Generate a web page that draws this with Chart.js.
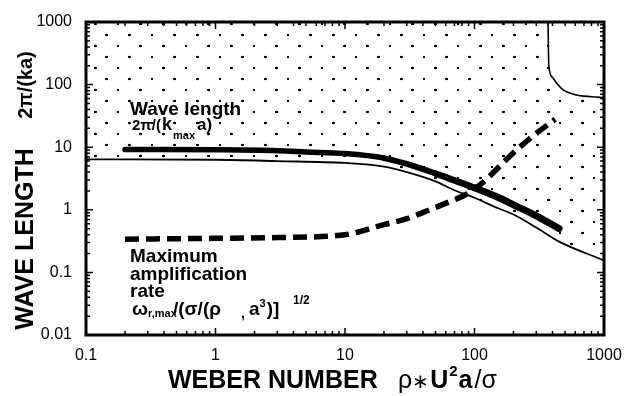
<!DOCTYPE html>
<html>
<head>
<meta charset="utf-8">
<script src="https://cdn.jsdelivr.net/npm/chart.js@4.4.1/dist/chart.umd.min.js"></script>
<style>
  html, body { margin: 0; padding: 0; background: #fff; }
</style>
</head>
<body>
<canvas id="chart" width="626" height="396"></canvas>
<script>
const FONT = '"Liberation Sans", Arial, Helvetica, sans-serif';

// wave length 2pi/(k_max a)  (thick solid)
const waveX = [0.2, 1, 3, 5, 10, 20, 30, 50, 70, 100, 150, 200, 300, 450];
const waveY = [9.2, 9.1, 8.8, 8.4, 7.9, 6.7, 5.4, 3.8, 2.95, 2.25, 1.6, 1.2, 0.8, 0.5];

// maximum amplification rate (thick dashed)
const rateX = [0.2, 1, 3, 10, 20, 30, 45, 65, 85, 110, 130, 190, 270, 420];
const rateY = [0.34, 0.35, 0.36, 0.40, 0.58, 0.72, 1.0, 1.36, 1.74, 2.5, 3.4, 7.4, 14, 28];

// lower edge of the stippled region (thin solid)
const edgeX = [0.1, 1, 3, 10, 20, 30, 50, 70, 100, 150, 200, 300, 450, 1000];
const edgeY = [6.4, 6.3, 6.0, 5.6, 4.9, 4.0, 2.85, 2.05, 1.56, 1.07, 0.84, 0.52, 0.31, 0.155];

// curve in the upper right corner (thin solid)
const cornerX = [370, 372, 375, 400, 440, 480, 600, 800, 1000];
const cornerY = [1000, 400, 200, 130, 100, 83, 69, 64, 62];

const xTickLabels = ['0.1', '1', '10', '100', '1000'];
const yTickLabels = ['0.01', '0.1', '1', '10', '100', '1000'];

function pts(xs, ys) {
    return xs.map((x, i) => ({ x: x, y: ys[i] }));
}

function decadeLabel(v, labels, firstExp) {
    const e = Math.log10(v);
    const r = Math.round(e);
    if (Math.abs(e - r) > 1e-6) return '';
    return labels[r - firstExp] || '';
}

function makeDots(ctx) {
    const t = document.createElement('canvas');
    t.width = 68;
    t.height = 66;
    const c = t.getContext('2d');
    c.fillStyle = '#000';
    [[48, 39], [14, 6]].forEach(([x, y]) => {
        c.beginPath();
        c.arc(x, y, 4.2, 0, Math.PI * 2);
        c.fill();
    });
    const p = ctx.createPattern(t, 'repeat');
    p.setTransform(new DOMMatrix().scale(1 / 3));
    return p;
}

function put(ctx, text, x, y, font) {
    ctx.font = font;
    ctx.fillText(text, x, y);
    return x + ctx.measureText(text).width;
}

const frameAndText = {
    id: 'frameAndText',
    afterDraw(chart) {
        const { ctx, chartArea: a, scales: { x, y } } = chart;
        ctx.save();
        ctx.strokeStyle = '#000';
        ctx.fillStyle = '#000';

        // inward ticks on all four sides
        ctx.lineWidth = 1.5;
        ctx.beginPath();
        for (let e = -1; e <= 3; e++) {
            for (let k = 1; k <= 9; k++) {
                const v = k * Math.pow(10, e);
                if (v > 1000) break;
                const px = x.getPixelForValue(v);
                const len = k === 1 ? 7 : 4;
                ctx.moveTo(px, a.bottom); ctx.lineTo(px, a.bottom - len);
                ctx.moveTo(px, a.top); ctx.lineTo(px, a.top + len);
            }
        }
        for (let e = -2; e <= 3; e++) {
            for (let k = 1; k <= 9; k++) {
                const v = k * Math.pow(10, e);
                if (v > 1000) break;
                const py = y.getPixelForValue(v);
                const len = k === 1 ? 7 : 4;
                ctx.moveTo(a.left, py); ctx.lineTo(a.left + len, py);
                ctx.moveTo(a.right, py); ctx.lineTo(a.right - len, py);
            }
        }
        ctx.stroke();
        ctx.lineWidth = 3;
        ctx.strokeRect(a.left, a.top, a.right - a.left, a.bottom - a.top);

        // axis titles
        ctx.textBaseline = 'alphabetic';
        ctx.textAlign = 'left';
        put(ctx, 'WEBER NUMBER', 168, 388, 'bold 25px ' + FONT);
        let cx = 398;
        cx = put(ctx, 'ρ', cx, 388, '25px ' + FONT);
        cx = put(ctx, '∗', cx, 388, '20px ' + FONT);
        cx = put(ctx, 'U', cx + 1, 388, 'bold 25px ' + FONT);
        cx = put(ctx, '2', cx + 1, 376, 'bold 15px ' + FONT);
        cx = put(ctx, 'a', cx + 1, 388, 'bold 25px ' + FONT);
        put(ctx, '/σ', cx + 2, 388, '25px ' + FONT);

        ctx.save();
        ctx.translate(33, 239);
        ctx.rotate(-Math.PI / 2);
        ctx.textAlign = 'center';
        ctx.font = 'bold 25px ' + FONT;
        ctx.fillText('WAVE LENGTH', 0, 0);
        ctx.restore();
        ctx.save();
        ctx.translate(32, 85);
        ctx.rotate(-Math.PI / 2);
        ctx.textAlign = 'center';
        ctx.font = 'bold 20px ' + FONT;
        ctx.fillText('2π/(ka)', 0, 0);
        ctx.restore();

        // curve annotations
        put(ctx, 'Wave length', 130, 115, 'bold 19px ' + FONT);
        put(ctx, '2π/(', 132, 130, 'bold 15px ' + FONT);
        put(ctx, 'k', 162, 130, 'bold 18px ' + FONT);
        put(ctx, 'max', 173, 139, 'bold 11px ' + FONT);
        put(ctx, 'a)', 197, 130, 'bold 17px ' + FONT);

        put(ctx, 'Maximum', 130, 262, 'bold 19px ' + FONT);
        put(ctx, 'amplification', 130, 280, 'bold 19px ' + FONT);
        put(ctx, 'rate', 130, 297, 'bold 19px ' + FONT);
        put(ctx, 'ω', 132, 315, 'bold 19px ' + FONT);
        put(ctx, 'r,max', 148, 317, 'bold 11px ' + FONT);
        put(ctx, '/(σ/(ρ', 173, 315, 'bold 19px ' + FONT);
        put(ctx, ',', 241, 318, 'bold 14px ' + FONT);
        cx = put(ctx, 'a', 249, 315, 'bold 19px ' + FONT);
        cx = put(ctx, '3', cx, 307, 'bold 11px ' + FONT);
        put(ctx, ')]', cx + 1, 315, 'bold 19px ' + FONT);
        put(ctx, '1/2', 293, 304, 'bold 12px ' + FONT);
        ctx.restore();
    }
};

// the printed thick line gets a little heavier towards the right
function widthAt(x) {
    if (x < 20) return 5.5;
    if (x < 50) return 6;
    if (x < 100) return 6.5;
    return 7;
}

const canvas = document.getElementById('chart');
const dots = makeDots(canvas.getContext('2d'));

new Chart(canvas, {
    type: 'line',
    data: {
        datasets: [
            {
                data: pts(cornerX, cornerY),
                borderColor: '#000',
                borderWidth: 1.6,
                fill: 'end',
                backgroundColor: '#fff',
                cubicInterpolationMode: 'monotone'
            },
            {
                data: pts(edgeX, edgeY),
                borderColor: '#000',
                borderWidth: 1.8,
                fill: 'end',
                backgroundColor: dots,
                cubicInterpolationMode: 'monotone'
            },
            {
                data: pts(waveX, waveY),
                borderColor: '#000',
                borderWidth: 5.5,
                borderCapStyle: 'round',
                borderJoinStyle: 'round',
                fill: false,
                cubicInterpolationMode: 'monotone',
                segment: { borderWidth: c => widthAt(c.p0.parsed.x) }
            },
            {
                data: pts(rateX, rateY),
                borderColor: '#000',
                borderWidth: 5.5,
                borderDash: [14, 7],
                fill: false,
                cubicInterpolationMode: 'monotone'
            }
        ]
    },
    options: {
        responsive: false,
        animation: false,
        events: [],
        elements: { point: { radius: 0 } },
        layout: { padding: { top: 22, right: 22, left: 0, bottom: 0 } },
        plugins: { legend: { display: false }, tooltip: { enabled: false } },
        scales: {
            x: {
                type: 'logarithmic',
                min: 0.1,
                max: 1000,
                grid: { display: false, drawTicks: false },
                border: { display: false },
                ticks: {
                    autoSkip: false,
                    maxRotation: 0,
                    padding: 11,
                    color: '#000',
                    font: { family: FONT, size: 16 },
                    callback: v => decadeLabel(v, xTickLabels, -1)
                },
                afterFit: s => { s.height = 61; s.paddingLeft = 0; s.paddingRight = 0; }
            },
            y: {
                type: 'logarithmic',
                min: 0.01,
                max: 1000,
                grid: { display: false, drawTicks: false },
                border: { display: false },
                ticks: {
                    autoSkip: false,
                    padding: 14,
                    color: '#000',
                    font: { family: FONT, size: 16 },
                    callback: v => decadeLabel(v, yTickLabels, -2)
                },
                afterFit: s => { s.width = 86; s.paddingTop = 0; s.paddingBottom = 0; }
            }
        }
    },
    plugins: [frameAndText]
});
</script>
</body>
</html>
